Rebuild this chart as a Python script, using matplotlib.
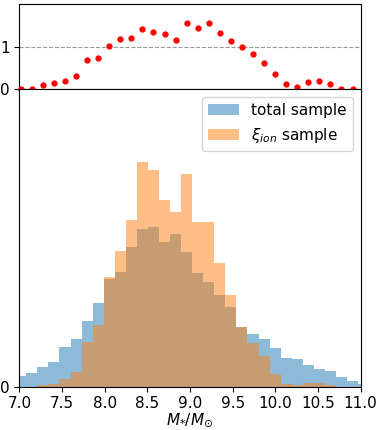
import numpy as np
import matplotlib
matplotlib.use('Agg')
import matplotlib.pyplot as plt

# bin edges of the stellar mass histograms (log M*/Msun)
bin_lo = 6.95
bin_hi = 11.10
n_bins = 32

# normalised histogram heights
total_density = [0.040, 0.049, 0.071, 0.091, 0.142, 0.173, 0.236, 0.304,
                 0.388, 0.415, 0.504, 0.568, 0.576, 0.523, 0.550, 0.486,
                 0.409, 0.377, 0.332, 0.288, 0.217, 0.192, 0.174, 0.138,
                 0.104, 0.101, 0.077, 0.064, 0.058, 0.035, 0.019, 0.008]
xi_density = [0.000, 0.000, 0.005, 0.011, 0.026, 0.054, 0.160, 0.224,
              0.396, 0.489, 0.603, 0.810, 0.782, 0.675, 0.631, 0.767,
              0.595, 0.595, 0.445, 0.332, 0.217, 0.159, 0.110, 0.045,
              0.011, 0.005, 0.012, 0.012, 0.006, 0.000, 0.000, 0.000]

# ratio xi_ion / total per bin (top panel)
ratio = [0.0, 0.0, 0.09, 0.15, 0.20, 0.32, 0.68, 0.73, 1.02, 1.18, 1.20,
         1.42, 1.35, 1.29, 1.15, 1.57, 1.45, 1.57, 1.33, 1.14, 1.00, 0.82,
         0.63, 0.35, 0.125, 0.06, 0.17, 0.20, 0.12, 0.0, 0.0]

edges = np.linspace(bin_lo, bin_hi, n_bins + 1)
centers = 0.5 * (edges[:-1] + edges[1:])

plt.rcParams['font.size'] = 11

fig = plt.figure(figsize=(3.82, 4.30), dpi=100)
ax_top = fig.add_axes([0.051, 0.7923, 0.893, 0.1977])
ax = fig.add_axes([0.051, 0.1007, 0.893, 0.6916], sharex=ax_top)

# ratio panel
ax_top.axhline(1, color='gray', ls='--', lw=0.8, alpha=0.8)
ax_top.plot(centers[:len(ratio)], ratio, 'o', color='red', ms=3.5,
            clip_on=False, zorder=3)
ax_top.set_ylim(0, 2)
ax_top.set_yticks([0, 1])
ax_top.tick_params(labelbottom=False)

# histograms
ax.hist(edges[:-1], bins=edges, weights=total_density, alpha=0.5,
        color='C0', label='total sample')
ax.hist(edges[:-1], bins=edges, weights=xi_density, alpha=0.5,
        color='C1', label=r'$\xi_{ion}$ sample')
ax.set_xlim(7.0, 11.0)
ax.set_ylim(0, 1.074)
ax.set_yticks([0])
ax.set_xticks(np.arange(7.0, 11.01, 0.5))
ax.set_xlabel(r'$M_{*}/M_{\odot}$', labelpad=0)
ax.legend(loc='upper right', fontsize=11)

plt.savefig('out.png', dpi=100)
